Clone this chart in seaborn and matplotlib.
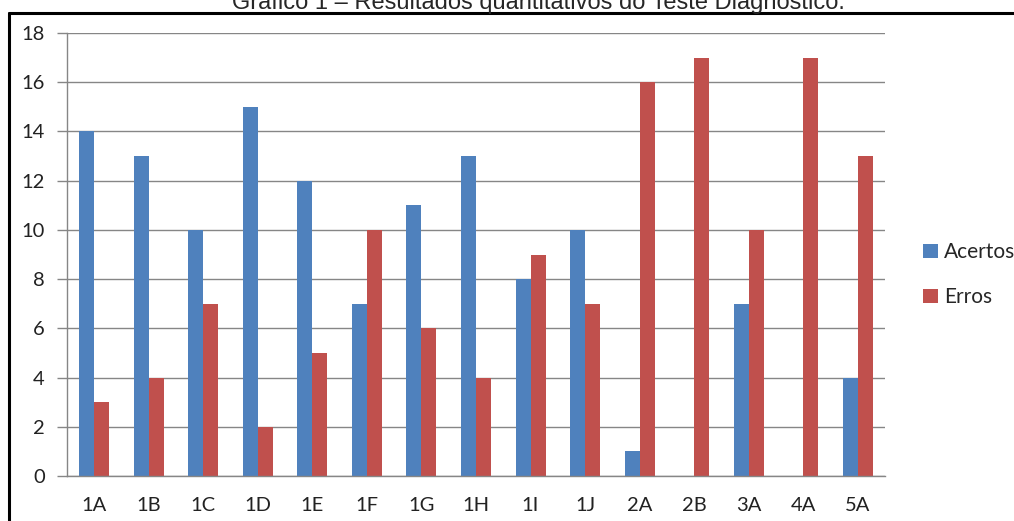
import numpy as np
import pandas as pd
import matplotlib
matplotlib.use("Agg")
import matplotlib.pyplot as plt
from matplotlib.lines import Line2D
from matplotlib.patches import Patch
import seaborn as sns

questoes = ['1A', '1B', '1C', '1D', '1E', '1F', '1G', '1H', '1I', '1J',
            '2A', '2B', '3A', '4A', '5A']
acertos = [14, 13, 10, 15, 12, 7, 11, 13, 8, 10, 1, 0, 7, 0, 4]
erros = [3, 4, 7, 2, 5, 10, 6, 4, 9, 7, 16, 17, 10, 17, 13]
series = ['Acertos', 'Erros']
cores = ['#4F81BD', '#C0504D']
yticks = [0, 2, 4, 6, 8, 10, 12, 14, 16, 18]

df = pd.DataFrame({'questao': questoes * 2,
                   'valor': acertos + erros,
                   'serie': [series[0]] * len(questoes) + [series[1]] * len(questoes)})

sns.set_style('white')
plt.rcParams['font.family'] = ['Lato', 'DejaVu Sans']

fig = plt.figure(figsize=(10.14, 5.21), dpi=100)
ax = fig.add_axes([67 / 1014, 45 / 521, 818 / 1014, 443 / 521])

sns.barplot(data=df, x='questao', y='valor', hue='serie', palette=cores,
            width=0.55, saturation=1, ax=ax, legend=False, linewidth=0)

grid_c = '#868686'
ax.set_ylim(0, 18)
ax.set_xlim(-0.5, len(questoes) - 0.5)
ax.set_yticks(yticks)
ax.yaxis.grid(True, color=grid_c, linewidth=1)
ax.set_axisbelow(True)
for s in ['top', 'right']:
    ax.spines[s].set_visible(False)
for s in ['left', 'bottom']:
    ax.spines[s].set_color(grid_c)
    ax.spines[s].set_linewidth(1)
ax.set_xlabel('')
ax.set_ylabel('')

# ticks nas fronteiras das categorias
ax.set_xticks(np.arange(len(questoes)))
ax.set_xticklabels(questoes, fontsize=14.5, color='#222222')
ax.set_xticks(np.arange(len(questoes) + 1) - 0.5, minor=True)
ax.tick_params(axis='x', which='major', length=0, pad=15)
ax.tick_params(axis='x', which='minor', length=7, color=grid_c, width=1)
ax.tick_params(axis='y', length=7, color=grid_c, width=1, labelsize=14.5,
               labelcolor='#222222', pad=9, left=True)

handles = [Patch(facecolor=c, edgecolor='none') for c in cores]
fig.legend(handles, series, loc='upper left', bbox_to_anchor=(913 / 1014, 1 - 232 / 521),
           frameon=False, fontsize=15, handlelength=0.7, handleheight=0.7,
           handletextpad=0.3, labelspacing=1.2, borderpad=0)

fig.text(538 / 1014, 1 - 9 / 521, 'Gráfico 1 – Resultados quantitativos do Teste Diagnóstico.',
         ha='center', va='baseline', fontsize=17, family=['Liberation Sans', 'DejaVu Sans'])

# moldura do recorte
fig.add_artist(Line2D([9 / 1014, 1], [1 - 13 / 521] * 2, color='black', linewidth=2.2,
                      transform=fig.transFigure))
fig.add_artist(Line2D([9 / 1014] * 2, [0, 1 - 13 / 521], color='black', linewidth=2.2,
                      transform=fig.transFigure))

fig.savefig('out.png', dpi=100)
